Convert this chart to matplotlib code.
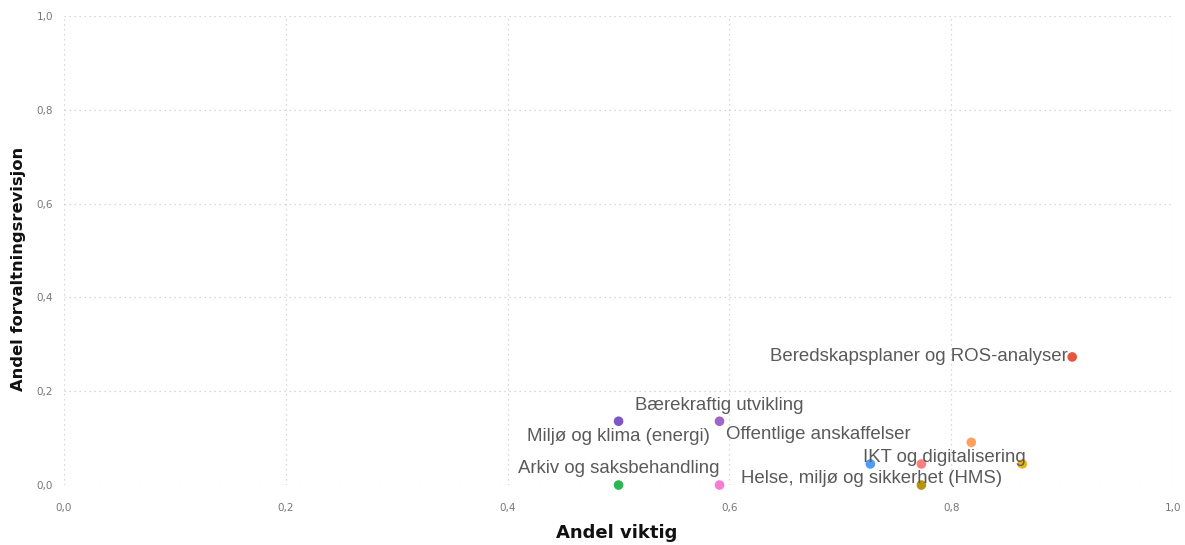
import matplotlib.pyplot as plt
import numpy as np

names = ['Beredskapsplaner og ROS-analyser', 'Bærekraftig utvikling', 'Miljø og klima (energi)',
         'Offentlige anskaffelser', '', 'IKT og digitalisering', '',
         'Helse, miljø og sikkerhet (HMS)', 'Arkiv og saksbehandling', '']
andel_viktig = [0.909, 0.591, 0.500, 0.818, 0.727, 0.773, 0.864, 0.773, 0.500, 0.591]
andel_revisjon = [0.273, 0.136, 0.136, 0.091, 0.045, 0.045, 0.045, 0.0, 0.0, 0.0]
colors = ['#E8553E', '#A064C9', '#7D56C7', '#FFA15A', '#4C9BFF', '#FF7F7F',
          '#E9B51A', '#B8930F', '#2DB553', '#F67BD8']

# label anchor (data coords) and alignment, picked to match the picture
label_pos = [(0.905, 0.273, 'right', 'center'), (0.591, 0.169, 'center', 'center'),
             (0.500, 0.104, 'center', 'center'), (0.597, 0.108, 'left', 'center'),
             None, (0.720, 0.058, 'left', 'center'), None,
             (0.610, 0.014, 'left', 'center'), (0.500, 0.036, 'center', 'center'), None]

fig = plt.figure(figsize=(11.85, 5.45), dpi=100)
ax = fig.add_axes([0.054, 0.110, 0.936, 0.861])

ax.scatter(andel_viktig, andel_revisjon, c=colors, s=48, zorder=3,
           edgecolors='none', clip_on=False)

for name, lp in zip(names, label_pos):
    if lp is None or not name:
        continue
    ax.text(lp[0], lp[1], name, ha=lp[2], va=lp[3], fontsize=13.4,
            color='#5a5a5a', family='Liberation Sans', zorder=4)

ax.set_xlim(0, 1.0)
ax.set_ylim(0, 1.0)
ticks = np.arange(0, 1.01, 0.2)
ax.set_xticks(ticks)
ax.set_yticks(ticks)
ax.set_xticklabels([f'{t:.1f}'.replace('.', ',') for t in ticks])
ax.set_yticklabels([f'{t:.1f}'.replace('.', ',') for t in ticks])
ax.tick_params(length=0, labelsize=7.5, labelcolor='#777777')
ax.tick_params(axis='x', pad=13)
ax.tick_params(axis='y', pad=8)
ax.grid(True, linestyle=(0, (1, 3)), color='#cccccc', linewidth=0.9)
ax.set_axisbelow(True)
for s in ax.spines.values():
    s.set_visible(False)

ax.set_xlabel('Andel viktig', fontsize=13, fontweight='black', color='#111111',
              family='DejaVu Sans')
ax.set_ylabel('Andel forvaltningsrevisjon', fontsize=11.8, fontweight='black',
              color='#111111', family='DejaVu Sans')
ax.xaxis.set_label_coords(0.498, -0.083)
ax.yaxis.set_label_coords(-0.034, 0.46)

fig.savefig('out.png', dpi=100)
